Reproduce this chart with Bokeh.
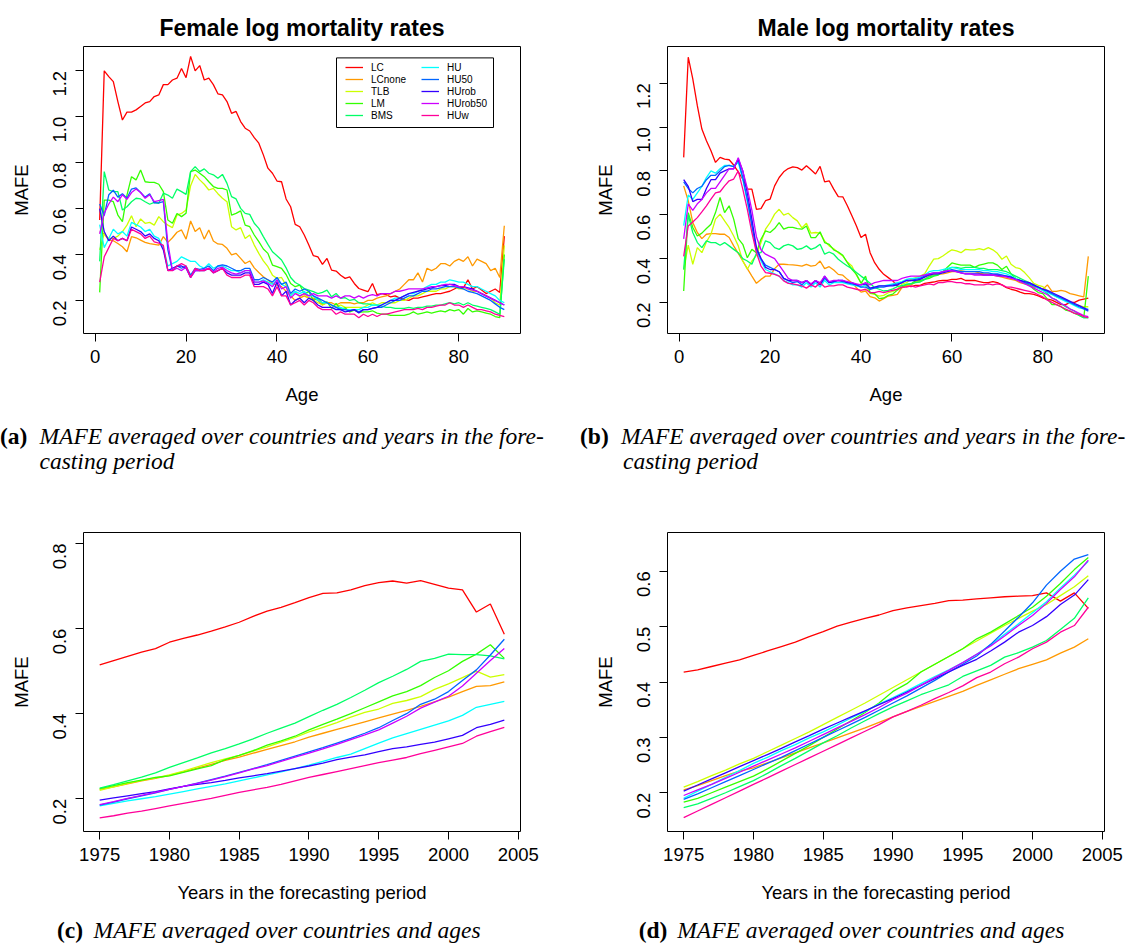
import math
from bokeh.plotting import figure
from bokeh.models import (FixedTicker, PrintfTickFormatter, Legend, LegendItem,
                          BoxAnnotation, Range1d, Div)
from bokeh.layouts import column, row
from bokeh.embed import file_html
from bokeh.resources import INLINE

SANS = "Liberation Sans"
SERIF = "Liberation Serif"

methods = ["LC", "LCnone", "TLB", "LM", "BMS", "HU", "HU50", "HUrob", "HUrob50", "HUw"]
colors = ["#FF0000", "#FF9900", "#CCFF00", "#33FF00", "#00FF66",
          "#00FFFF", "#0066FF", "#3300FF", "#CC00FF", "#FF0099"]
ages = list(range(1, 91))
years = list(range(1975, 2005))

# ---------------- (a) female, by age ----------------
f_LC = [0.55, 1.20, 1.175, 1.153, 1.066, 0.986, 1.02, 1.02, 1.03, 1.045,
        1.06, 1.066, 1.088, 1.095, 1.14, 1.14, 1.16, 1.168, 1.21, 1.17,
        1.263, 1.20, 1.223, 1.16, 1.168, 1.14, 1.10, 1.095, 1.066, 1.015,
        1.023, 0.979, 0.95, 0.938, 0.909, 0.885, 0.834, 0.776, 0.754, 0.72,
        0.717, 0.642, 0.608, 0.531, 0.521, 0.485, 0.441, 0.395, 0.39, 0.357,
        0.383, 0.332, 0.328, 0.31, 0.296, 0.303, 0.274, 0.252, 0.245, 0.238,
        0.274, 0.225, 0.23, 0.225, 0.215, 0.22, 0.21, 0.205, 0.20, 0.21,
        0.21, 0.215, 0.22, 0.225, 0.23, 0.23, 0.235, 0.24, 0.25, 0.26,
        0.255, 0.29, 0.25, 0.26, 0.245, 0.23, 0.24, 0.25, 0.235, 0.48]
f_LCnone = [0.50, 0.49, 0.463, 0.46, 0.448, 0.434, 0.412, 0.478, 0.473, 0.463,
            0.453, 0.447, 0.444, 0.441, 0.478, 0.453, 0.473, 0.497, 0.507, 0.467,
            0.546, 0.50, 0.517, 0.467, 0.507, 0.459, 0.446, 0.444, 0.427, 0.398,
            0.405, 0.383, 0.361, 0.372, 0.342, 0.322, 0.303, 0.289, 0.274, 0.267,
            0.26, 0.24, 0.22, 0.20, 0.21, 0.22, 0.21, 0.21, 0.20, 0.18,
            0.19, 0.19, 0.18, 0.19, 0.19, 0.19, 0.185, 0.19, 0.19, 0.20,
            0.20, 0.21, 0.215, 0.22, 0.23, 0.24, 0.25, 0.27, 0.29, 0.29,
            0.32, 0.28, 0.34, 0.33, 0.34, 0.36, 0.36, 0.35, 0.37, 0.38,
            0.37, 0.39, 0.35, 0.38, 0.37, 0.36, 0.33, 0.34, 0.30, 0.525]
f_TLB = [0.42, 0.49, 0.47, 0.47, 0.48, 0.50, 0.528, 0.569, 0.521, 0.555,
         0.536, 0.54, 0.528, 0.565, 0.543, 0.528, 0.517, 0.572, 0.579, 0.594,
         0.70, 0.749, 0.725, 0.706, 0.681, 0.688, 0.665, 0.645, 0.63, 0.521,
         0.507, 0.517, 0.47, 0.485, 0.441, 0.405, 0.372, 0.347, 0.31, 0.296,
         0.30, 0.267, 0.223, 0.238, 0.216, 0.23, 0.21, 0.20, 0.19, 0.18,
         0.19, 0.18, 0.17, 0.18, 0.17, 0.17, 0.17, 0.17, 0.17, 0.18,
         0.19, 0.18, 0.19, 0.19, 0.19, 0.19, 0.20, 0.20, 0.21, 0.22,
         0.22, 0.23, 0.24, 0.24, 0.24, 0.25, 0.25, 0.26, 0.26, 0.25,
         0.25, 0.25, 0.24, 0.24, 0.23, 0.22, 0.21, 0.19, 0.18, 0.44]
f_LM = [0.235, 0.637, 0.637, 0.63, 0.572, 0.543, 0.659, 0.739, 0.725, 0.768,
        0.717, 0.714, 0.714, 0.706, 0.674, 0.55, 0.536, 0.579, 0.565, 0.58,
        0.761, 0.768, 0.754, 0.739, 0.717, 0.696, 0.688, 0.688, 0.681, 0.572,
        0.579, 0.59, 0.528, 0.521, 0.485, 0.456, 0.424, 0.405, 0.354, 0.347,
        0.34, 0.313, 0.274, 0.26, 0.267, 0.23, 0.238, 0.20, 0.21, 0.187,
        0.194, 0.165, 0.187, 0.162, 0.168, 0.15, 0.158, 0.148, 0.15, 0.15,
        0.155, 0.145, 0.14, 0.14, 0.135, 0.135, 0.135, 0.135, 0.14, 0.15,
        0.14, 0.145, 0.15, 0.145, 0.15, 0.155, 0.15, 0.16, 0.155, 0.16,
        0.14, 0.165, 0.15, 0.155, 0.15, 0.145, 0.14, 0.13, 0.125, 0.40]
f_BMS = [0.37, 0.761, 0.681, 0.674, 0.674, 0.594, 0.608, 0.63, 0.645, 0.642,
         0.63, 0.619, 0.627, 0.623, 0.667, 0.659, 0.645, 0.685, 0.674, 0.662,
         0.761, 0.783, 0.761, 0.773, 0.754, 0.747, 0.732, 0.749, 0.71, 0.652,
         0.642, 0.601, 0.579, 0.575, 0.536, 0.514, 0.478, 0.444, 0.412, 0.395,
         0.376, 0.342, 0.30, 0.278, 0.267, 0.252, 0.245, 0.238, 0.23, 0.235,
         0.245, 0.216, 0.23, 0.209, 0.212, 0.20, 0.205, 0.19, 0.185, 0.185,
         0.18, 0.18, 0.175, 0.17, 0.17, 0.165, 0.165, 0.165, 0.17, 0.165,
         0.17, 0.17, 0.175, 0.175, 0.18, 0.18, 0.185, 0.19, 0.185, 0.19,
         0.18, 0.19, 0.18, 0.175, 0.17, 0.165, 0.16, 0.15, 0.14, 0.38]
f_HU = [0.53, 0.43, 0.47, 0.51, 0.49, 0.50, 0.48, 0.54, 0.53, 0.52,
        0.50, 0.51, 0.48, 0.47, 0.43, 0.35, 0.36, 0.37, 0.39, 0.38,
        0.37, 0.37, 0.35, 0.34, 0.36, 0.34, 0.35, 0.35, 0.34, 0.33,
        0.33, 0.32, 0.33, 0.33, 0.28, 0.28, 0.29, 0.28, 0.27, 0.29,
        0.27, 0.26, 0.22, 0.24, 0.23, 0.24, 0.22, 0.22, 0.20, 0.19,
        0.19, 0.18, 0.17, 0.17, 0.16, 0.16, 0.16, 0.16, 0.17, 0.17,
        0.18, 0.18, 0.18, 0.19, 0.20, 0.21, 0.21, 0.22, 0.23, 0.23,
        0.24, 0.25, 0.26, 0.27, 0.27, 0.28, 0.28, 0.29, 0.285, 0.28,
        0.28, 0.27, 0.26, 0.26, 0.25, 0.24, 0.23, 0.22, 0.20, 0.19]
f_HU50 = [0.62, 0.57, 0.66, 0.68, 0.65, 0.665, 0.645, 0.685, 0.69, 0.67,
          0.65, 0.665, 0.625, 0.625, 0.63, 0.42, 0.33, 0.35, 0.34, 0.35,
          0.31, 0.34, 0.335, 0.34, 0.35, 0.33, 0.35, 0.355, 0.35, 0.34,
          0.33, 0.33, 0.34, 0.34, 0.29, 0.29, 0.30, 0.29, 0.28, 0.30,
          0.27, 0.28, 0.23, 0.25, 0.24, 0.25, 0.24, 0.22, 0.21, 0.20,
          0.19, 0.18, 0.17, 0.16, 0.16, 0.155, 0.16, 0.15, 0.16, 0.16,
          0.165, 0.17, 0.17, 0.18, 0.19, 0.20, 0.20, 0.21, 0.22, 0.22,
          0.23, 0.24, 0.24, 0.25, 0.25, 0.255, 0.26, 0.26, 0.26, 0.255,
          0.25, 0.24, 0.235, 0.23, 0.22, 0.21, 0.20, 0.185, 0.17, 0.16]
f_HUrob = [0.60, 0.50, 0.46, 0.48, 0.46, 0.47, 0.46, 0.52, 0.51, 0.50,
           0.48, 0.49, 0.47, 0.46, 0.42, 0.33, 0.34, 0.35, 0.35, 0.34,
           0.30, 0.33, 0.33, 0.33, 0.34, 0.32, 0.33, 0.34, 0.32, 0.31,
           0.31, 0.31, 0.32, 0.32, 0.27, 0.27, 0.28, 0.27, 0.23, 0.28,
           0.22, 0.24, 0.18, 0.20, 0.21, 0.19, 0.21, 0.20, 0.18, 0.17,
           0.17, 0.17, 0.16, 0.16, 0.15, 0.155, 0.16, 0.145, 0.16, 0.16,
           0.165, 0.17, 0.18, 0.19, 0.20, 0.20, 0.21, 0.22, 0.23, 0.235,
           0.24, 0.245, 0.25, 0.255, 0.26, 0.265, 0.265, 0.27, 0.27, 0.26,
           0.26, 0.255, 0.25, 0.24, 0.23, 0.22, 0.21, 0.20, 0.19, 0.18]
f_HUrob50 = [0.49, 0.58, 0.62, 0.65, 0.63, 0.66, 0.64, 0.67, 0.685, 0.67,
             0.645, 0.66, 0.63, 0.635, 0.64, 0.45, 0.33, 0.34, 0.33, 0.345,
             0.30, 0.33, 0.33, 0.335, 0.34, 0.325, 0.34, 0.345, 0.33, 0.32,
             0.315, 0.32, 0.33, 0.33, 0.28, 0.28, 0.285, 0.275, 0.26, 0.29,
             0.25, 0.26, 0.21, 0.23, 0.22, 0.23, 0.22, 0.23, 0.22, 0.22,
             0.22, 0.21, 0.22, 0.21, 0.22, 0.22, 0.21, 0.22, 0.21, 0.22,
             0.225, 0.22, 0.23, 0.23, 0.23, 0.24, 0.24, 0.245, 0.25, 0.25,
             0.25, 0.25, 0.255, 0.26, 0.26, 0.265, 0.27, 0.27, 0.265, 0.26,
             0.26, 0.25, 0.245, 0.24, 0.23, 0.22, 0.21, 0.20, 0.19, 0.18]
f_HUw = [0.28, 0.39, 0.43, 0.47, 0.46, 0.47, 0.46, 0.51, 0.50, 0.49,
         0.47, 0.48, 0.455, 0.45, 0.44, 0.33, 0.33, 0.35, 0.36, 0.35,
         0.30, 0.34, 0.33, 0.33, 0.34, 0.32, 0.33, 0.34, 0.31, 0.30,
         0.30, 0.30, 0.31, 0.31, 0.26, 0.26, 0.26, 0.25, 0.22, 0.26,
         0.22, 0.22, 0.18, 0.19, 0.20, 0.18, 0.20, 0.19, 0.17, 0.16,
         0.16, 0.16, 0.14, 0.15, 0.14, 0.14, 0.14, 0.125, 0.14, 0.13,
         0.14, 0.13, 0.14, 0.14, 0.145, 0.15, 0.155, 0.16, 0.16, 0.16,
         0.165, 0.16, 0.17, 0.17, 0.175, 0.18, 0.18, 0.19, 0.18, 0.18,
         0.17, 0.18, 0.17, 0.16, 0.16, 0.155, 0.15, 0.14, 0.135, 0.13]

# ---------------- (b) male, by age ----------------
m_LC = [0.862, 1.319, 1.22, 1.098, 0.991, 0.938, 0.892, 0.839, 0.862, 0.854,
        0.851, 0.827, 0.796, 0.763, 0.717, 0.717, 0.625, 0.628, 0.664, 0.671,
        0.732, 0.77, 0.796, 0.811, 0.819, 0.815, 0.804, 0.824, 0.805, 0.786,
        0.821, 0.75, 0.755, 0.717, 0.683, 0.682, 0.641, 0.595, 0.549, 0.496,
        0.511, 0.427, 0.381, 0.351, 0.328, 0.313, 0.298, 0.275, 0.267, 0.275,
        0.272, 0.278, 0.278, 0.287, 0.29, 0.293, 0.298, 0.30, 0.30, 0.305,
        0.305, 0.31, 0.30, 0.30, 0.30, 0.295, 0.29, 0.29, 0.295, 0.29,
        0.28, 0.267, 0.26, 0.255, 0.247, 0.24, 0.24, 0.237, 0.23, 0.22,
        0.215, 0.21, 0.20, 0.19, 0.19, 0.20, 0.20, 0.21, 0.215, 0.22]
m_LCnone = [0.732, 0.664, 0.564, 0.519, 0.491, 0.511, 0.514, 0.514, 0.511, 0.511,
            0.496, 0.458, 0.424, 0.389, 0.354, 0.32, 0.287, 0.305, 0.32, 0.32,
            0.354, 0.374, 0.374, 0.372, 0.371, 0.369, 0.366, 0.374, 0.366, 0.369,
            0.389, 0.354, 0.363, 0.348, 0.328, 0.324, 0.305, 0.29, 0.267, 0.247,
            0.252, 0.226, 0.221, 0.206, 0.217, 0.229, 0.232, 0.237, 0.267, 0.275,
            0.28, 0.293, 0.295, 0.305, 0.32, 0.328, 0.328, 0.33, 0.335, 0.34,
            0.34, 0.345, 0.34, 0.34, 0.34, 0.335, 0.33, 0.33, 0.325, 0.32,
            0.315, 0.31, 0.305, 0.30, 0.29, 0.285, 0.28, 0.27, 0.265, 0.26,
            0.28, 0.25, 0.25, 0.255, 0.25, 0.24, 0.235, 0.23, 0.225, 0.41]
m_TLB = [0.35, 0.461, 0.374, 0.45, 0.427, 0.476, 0.511, 0.58, 0.603, 0.572,
         0.542, 0.503, 0.458, 0.389, 0.351, 0.389, 0.415, 0.473, 0.534, 0.564,
         0.603, 0.625, 0.598, 0.607, 0.587, 0.572, 0.54, 0.561, 0.516, 0.519,
         0.516, 0.481, 0.458, 0.445, 0.427, 0.412, 0.384, 0.366, 0.324, 0.29,
         0.278, 0.241, 0.237, 0.229, 0.232, 0.244, 0.25, 0.26, 0.283, 0.29,
         0.305, 0.313, 0.32, 0.33, 0.366, 0.397, 0.40, 0.412, 0.427, 0.44,
         0.435, 0.427, 0.442, 0.44, 0.44, 0.445, 0.44, 0.45, 0.44, 0.424,
         0.397, 0.412, 0.374, 0.359, 0.354, 0.336, 0.313, 0.287, 0.278, 0.272,
         0.252, 0.241, 0.226, 0.217, 0.214, 0.20, 0.19, 0.185, 0.18, 0.18]
m_LM = [0.252, 0.61, 0.542, 0.503, 0.516, 0.537, 0.557, 0.61, 0.679, 0.61,
        0.641, 0.58, 0.491, 0.465, 0.404, 0.442, 0.427, 0.488, 0.526, 0.519,
        0.537, 0.564, 0.534, 0.542, 0.542, 0.537, 0.534, 0.549, 0.496, 0.496,
        0.522, 0.473, 0.465, 0.44, 0.43, 0.415, 0.381, 0.351, 0.328, 0.287,
        0.32, 0.244, 0.24, 0.217, 0.22, 0.232, 0.238, 0.256, 0.27, 0.282,
        0.285, 0.298, 0.30, 0.305, 0.31, 0.32, 0.325, 0.34, 0.36, 0.38,
        0.375, 0.37, 0.37, 0.37, 0.36, 0.37, 0.375, 0.38, 0.38, 0.37,
        0.35, 0.365, 0.33, 0.31, 0.30, 0.29, 0.28, 0.26, 0.245, 0.24,
        0.215, 0.19, 0.19, 0.18, 0.165, 0.16, 0.15, 0.14, 0.13, 0.32]
m_BMS = [0.35, 0.60, 0.519, 0.473, 0.45, 0.481, 0.473, 0.473, 0.461, 0.473,
         0.458, 0.442, 0.427, 0.40, 0.389, 0.374, 0.424, 0.427, 0.481, 0.473,
         0.45, 0.442, 0.458, 0.465, 0.458, 0.442, 0.446, 0.458, 0.442, 0.45,
         0.465, 0.42, 0.43, 0.42, 0.397, 0.381, 0.366, 0.354, 0.336, 0.32,
         0.305, 0.287, 0.267, 0.26, 0.252, 0.255, 0.262, 0.272, 0.277, 0.282,
         0.285, 0.29, 0.293, 0.305, 0.317, 0.322, 0.328, 0.34, 0.35, 0.36,
         0.36, 0.355, 0.36, 0.36, 0.36, 0.355, 0.355, 0.35, 0.35, 0.35,
         0.345, 0.34, 0.33, 0.32, 0.31, 0.30, 0.29, 0.28, 0.265, 0.255,
         0.24, 0.22, 0.21, 0.195, 0.18, 0.17, 0.16, 0.14, 0.13, 0.13]
m_HU = [0.55, 0.69, 0.67, 0.70, 0.73, 0.77, 0.80, 0.79, 0.81, 0.825,
        0.825, 0.82, 0.84, 0.76, 0.66, 0.55, 0.43, 0.39, 0.35, 0.34,
        0.33, 0.32, 0.30, 0.29, 0.28, 0.28, 0.27, 0.29, 0.27, 0.29,
        0.27, 0.30, 0.28, 0.29, 0.29, 0.29, 0.285, 0.28, 0.275, 0.27,
        0.28, 0.265, 0.27, 0.275, 0.275, 0.28, 0.285, 0.29, 0.295, 0.305,
        0.31, 0.31, 0.315, 0.325, 0.34, 0.345, 0.345, 0.35, 0.355, 0.36,
        0.355, 0.35, 0.35, 0.35, 0.35, 0.35, 0.345, 0.345, 0.34, 0.34,
        0.335, 0.33, 0.32, 0.31, 0.30, 0.295, 0.285, 0.275, 0.265, 0.255,
        0.245, 0.235, 0.225, 0.215, 0.205, 0.195, 0.185, 0.175, 0.17, 0.17]
m_HU50 = [0.75, 0.72, 0.70, 0.72, 0.73, 0.76, 0.78, 0.78, 0.80, 0.82,
          0.825, 0.82, 0.85, 0.77, 0.67, 0.55, 0.44, 0.40, 0.37, 0.36,
          0.35, 0.34, 0.31, 0.30, 0.29, 0.295, 0.28, 0.30, 0.28, 0.30,
          0.28, 0.31, 0.29, 0.295, 0.30, 0.295, 0.29, 0.285, 0.28, 0.27,
          0.27, 0.26, 0.265, 0.27, 0.27, 0.275, 0.28, 0.285, 0.29, 0.30,
          0.30, 0.305, 0.31, 0.32, 0.33, 0.335, 0.335, 0.34, 0.345, 0.35,
          0.345, 0.34, 0.34, 0.34, 0.34, 0.34, 0.335, 0.335, 0.33, 0.33,
          0.325, 0.32, 0.315, 0.305, 0.30, 0.29, 0.285, 0.275, 0.27, 0.26,
          0.25, 0.24, 0.23, 0.22, 0.21, 0.20, 0.19, 0.18, 0.17, 0.16]
m_HUrob = [0.76, 0.73, 0.66, 0.67, 0.67, 0.72, 0.76, 0.76, 0.79, 0.80,
           0.81, 0.81, 0.855, 0.80, 0.70, 0.58, 0.45, 0.40, 0.36, 0.35,
           0.35, 0.34, 0.31, 0.30, 0.30, 0.30, 0.29, 0.30, 0.28, 0.30,
           0.28, 0.32, 0.29, 0.295, 0.30, 0.30, 0.29, 0.29, 0.28, 0.28,
           0.285, 0.265, 0.27, 0.275, 0.275, 0.275, 0.275, 0.28, 0.29, 0.30,
           0.30, 0.30, 0.305, 0.315, 0.325, 0.33, 0.33, 0.335, 0.34, 0.345,
           0.34, 0.335, 0.33, 0.33, 0.33, 0.33, 0.325, 0.325, 0.325, 0.325,
           0.32, 0.32, 0.315, 0.305, 0.30, 0.295, 0.29, 0.28, 0.27, 0.26,
           0.255, 0.245, 0.235, 0.225, 0.215, 0.205, 0.195, 0.185, 0.175, 0.165]
m_HUrob50 = [0.49, 0.65, 0.62, 0.65, 0.67, 0.70, 0.72, 0.72, 0.75, 0.78,
             0.81, 0.81, 0.86, 0.80, 0.72, 0.62, 0.50, 0.44, 0.42, 0.41,
             0.40, 0.37, 0.34, 0.31, 0.30, 0.30, 0.29, 0.30, 0.285, 0.30,
             0.29, 0.32, 0.295, 0.30, 0.30, 0.30, 0.295, 0.29, 0.285, 0.28,
             0.29, 0.28, 0.29, 0.295, 0.30, 0.30, 0.30, 0.30, 0.31, 0.315,
             0.32, 0.32, 0.32, 0.325, 0.33, 0.335, 0.335, 0.34, 0.345, 0.345,
             0.34, 0.335, 0.33, 0.33, 0.325, 0.325, 0.325, 0.325, 0.325, 0.32,
             0.32, 0.315, 0.31, 0.305, 0.295, 0.285, 0.275, 0.265, 0.255, 0.245,
             0.235, 0.22, 0.21, 0.195, 0.185, 0.17, 0.16, 0.15, 0.14, 0.135]
m_HUw = [0.41, 0.549, 0.567, 0.587, 0.613, 0.641, 0.671, 0.70, 0.705, 0.732,
         0.755, 0.763, 0.80, 0.717, 0.625, 0.519, 0.427, 0.366, 0.336, 0.333,
         0.328, 0.32, 0.298, 0.287, 0.285, 0.28, 0.275, 0.265, 0.28, 0.27,
         0.29, 0.27, 0.275, 0.275, 0.28, 0.28, 0.27, 0.265, 0.26, 0.255,
         0.26, 0.245, 0.245, 0.25, 0.245, 0.25, 0.255, 0.26, 0.27, 0.27,
         0.275, 0.27, 0.275, 0.28, 0.285, 0.28, 0.29, 0.29, 0.295, 0.295,
         0.29, 0.29, 0.285, 0.285, 0.28, 0.28, 0.28, 0.285, 0.28, 0.285,
         0.28, 0.27, 0.27, 0.265, 0.26, 0.255, 0.25, 0.245, 0.235, 0.225,
         0.21, 0.20, 0.19, 0.18, 0.17, 0.16, 0.15, 0.145, 0.135, 0.13]

# ---------------- (c) female, by year ----------------
c_LC = [0.515, 0.525, 0.535, 0.545, 0.553, 0.568, 0.577, 0.585, 0.594, 0.604,
        0.615, 0.629, 0.641, 0.650, 0.661, 0.673, 0.683, 0.684, 0.691, 0.701,
        0.708, 0.712, 0.707, 0.713, 0.704, 0.695, 0.691, 0.639, 0.658, 0.587]
c_LCnone = [0.222, 0.228, 0.235, 0.242, 0.248, 0.255, 0.263, 0.272, 0.281, 0.290,
            0.298, 0.307, 0.316, 0.325, 0.334, 0.345, 0.354, 0.363, 0.372, 0.381,
            0.390, 0.399, 0.408, 0.417, 0.428, 0.439, 0.452, 0.464, 0.466, 0.475]
c_TLB = [0.220, 0.228, 0.236, 0.243, 0.249, 0.256, 0.265, 0.275, 0.285, 0.294,
         0.302, 0.312, 0.322, 0.333, 0.344, 0.357, 0.368, 0.379, 0.392, 0.403,
         0.411, 0.424, 0.431, 0.440, 0.457, 0.470, 0.485, 0.500, 0.486, 0.492]
c_LM = [0.224, 0.231, 0.238, 0.244, 0.250, 0.254, 0.262, 0.270, 0.278, 0.292,
        0.302, 0.313, 0.326, 0.336, 0.347, 0.362, 0.375, 0.387, 0.400, 0.414,
        0.428, 0.442, 0.452, 0.466, 0.485, 0.501, 0.523, 0.540, 0.562, 0.530]
c_BMS = [0.225, 0.233, 0.242, 0.251, 0.261, 0.274, 0.285, 0.296, 0.308, 0.318,
         0.329, 0.341, 0.354, 0.366, 0.378, 0.393, 0.408, 0.422, 0.438, 0.455,
         0.473, 0.488, 0.504, 0.523, 0.530, 0.540, 0.539, 0.539, 0.536, 0.529]
c_HU = [0.183, 0.189, 0.195, 0.200, 0.205, 0.211, 0.217, 0.223, 0.229, 0.235,
        0.242, 0.249, 0.256, 0.263, 0.271, 0.279, 0.288, 0.297, 0.305, 0.318,
        0.331, 0.343, 0.353, 0.363, 0.373, 0.383, 0.396, 0.415, 0.422, 0.429]
c_HU50 = [0.185, 0.192, 0.200, 0.207, 0.214, 0.222, 0.229, 0.237, 0.245, 0.253,
          0.262, 0.271, 0.280, 0.290, 0.300, 0.310, 0.320, 0.331, 0.342, 0.354,
          0.367, 0.384, 0.400, 0.422, 0.434, 0.452, 0.478, 0.503, 0.538, 0.575]
c_HUrob = [0.197, 0.202, 0.207, 0.212, 0.217, 0.223, 0.229, 0.234, 0.238, 0.243,
           0.249, 0.254, 0.259, 0.265, 0.271, 0.277, 0.284, 0.292, 0.298, 0.303,
           0.311, 0.318, 0.322, 0.328, 0.333, 0.341, 0.349, 0.367, 0.375, 0.385]
c_HUrob50 = [0.186, 0.193, 0.201, 0.208, 0.215, 0.222, 0.229, 0.236, 0.244, 0.252,
             0.261, 0.270, 0.278, 0.288, 0.298, 0.307, 0.317, 0.328, 0.339, 0.350,
             0.362, 0.378, 0.394, 0.413, 0.427, 0.441, 0.465, 0.495, 0.525, 0.553]
c_HUw = [0.155, 0.160, 0.166, 0.171, 0.177, 0.183, 0.189, 0.195, 0.201, 0.208,
         0.215, 0.221, 0.227, 0.234, 0.242, 0.250, 0.257, 0.264, 0.271, 0.278,
         0.285, 0.291, 0.297, 0.306, 0.314, 0.322, 0.330, 0.347, 0.358, 0.368]

# ---------------- (d) male, by year ----------------
d_LC = [0.418, 0.422, 0.428, 0.434, 0.440, 0.448, 0.456, 0.464, 0.472, 0.482,
        0.491, 0.501, 0.508, 0.515, 0.521, 0.529, 0.534, 0.538, 0.542, 0.547,
        0.548, 0.550, 0.552, 0.554, 0.555, 0.556, 0.561, 0.546, 0.561, 0.533]
d_LCnone = [0.205, 0.213, 0.222, 0.231, 0.239, 0.245, 0.254, 0.263, 0.272, 0.281,
            0.290, 0.299, 0.308, 0.317, 0.327, 0.337, 0.347, 0.356, 0.365, 0.374,
            0.383, 0.394, 0.404, 0.414, 0.424, 0.432, 0.440, 0.452, 0.463, 0.478]
d_TLB = [0.210, 0.220, 0.231, 0.241, 0.252, 0.262, 0.274, 0.286, 0.298, 0.310,
         0.323, 0.336, 0.349, 0.362, 0.376, 0.390, 0.404, 0.418, 0.432, 0.446,
         0.460, 0.474, 0.488, 0.502, 0.515, 0.528, 0.540, 0.556, 0.572, 0.592]
d_LM = [0.183, 0.190, 0.200, 0.210, 0.220, 0.230, 0.243, 0.257, 0.271, 0.285,
        0.300, 0.315, 0.330, 0.345, 0.362, 0.383, 0.397, 0.418, 0.432, 0.446,
        0.460, 0.478, 0.490, 0.505, 0.520, 0.535, 0.555, 0.578, 0.603, 0.625]
d_BMS = [0.173, 0.180, 0.190, 0.200, 0.211, 0.222, 0.235, 0.249, 0.262, 0.276,
         0.290, 0.303, 0.317, 0.330, 0.343, 0.355, 0.366, 0.377, 0.386, 0.395,
         0.410, 0.420, 0.430, 0.445, 0.453, 0.463, 0.475, 0.495, 0.515, 0.552]
d_HU = [0.190, 0.203, 0.215, 0.228, 0.240, 0.253, 0.264, 0.276, 0.287, 0.299,
        0.310, 0.322, 0.335, 0.347, 0.360, 0.372, 0.384, 0.397, 0.410, 0.422,
        0.435, 0.450, 0.467, 0.486, 0.505, 0.525, 0.545, 0.570, 0.593, 0.618]
d_HU50 = [0.188, 0.198, 0.209, 0.220, 0.231, 0.242, 0.253, 0.264, 0.276, 0.288,
          0.300, 0.312, 0.324, 0.336, 0.349, 0.362, 0.375, 0.389, 0.403, 0.418,
          0.432, 0.447, 0.468, 0.492, 0.517, 0.543, 0.575, 0.600, 0.622, 0.630]
d_HUrob = [0.203, 0.214, 0.225, 0.236, 0.247, 0.258, 0.269, 0.280, 0.292, 0.303,
           0.315, 0.326, 0.337, 0.348, 0.359, 0.370, 0.382, 0.394, 0.406, 0.418,
           0.430, 0.441, 0.456, 0.472, 0.490, 0.502, 0.518, 0.540, 0.557, 0.585]
d_HUrob50 = [0.195, 0.205, 0.215, 0.226, 0.237, 0.248, 0.259, 0.270, 0.281, 0.293,
             0.305, 0.317, 0.329, 0.341, 0.354, 0.368, 0.380, 0.394, 0.408, 0.421,
             0.435, 0.450, 0.465, 0.483, 0.502, 0.520, 0.542, 0.567, 0.590, 0.620]
d_HUw = [0.155, 0.167, 0.179, 0.191, 0.203, 0.215, 0.227, 0.239, 0.251, 0.263,
         0.275, 0.287, 0.299, 0.311, 0.323, 0.337, 0.347, 0.358, 0.370, 0.381,
         0.393, 0.408, 0.418, 0.433, 0.445, 0.460, 0.472, 0.490, 0.502, 0.535]

female_age = [f_LC, f_LCnone, f_TLB, f_LM, f_BMS, f_HU, f_HU50, f_HUrob, f_HUrob50, f_HUw]
male_age = [m_LC, m_LCnone, m_TLB, m_LM, m_BMS, m_HU, m_HU50, m_HUrob, m_HUrob50, m_HUw]
female_year = [c_LC, c_LCnone, c_TLB, c_LM, c_BMS, c_HU, c_HU50, c_HUrob, c_HUrob50, c_HUw]
male_year = [d_LC, d_LCnone, d_TLB, d_LM, d_BMS, d_HU, d_HU50, d_HUrob, d_HUrob50, d_HUw]

age_ticks = [0, 20, 40, 60, 80]
year_ticks = [1975, 1980, 1985, 1990, 1995, 2000, 2005]


def make_panel(x, series, xr, yr, xticks, yticks, xlabel, title,
               bl, br, bt, bb, fh):
    kw = dict(frame_width=437, frame_height=fh,
              x_range=Range1d(*xr), y_range=Range1d(*yr),
              output_backend="svg", toolbar_location=None,
              min_border_left=bl, min_border_right=br,
              min_border_top=bt, min_border_bottom=bb)
    if title:
        kw["title"] = title
    p = figure(**kw)
    p.background_fill_color = "white"
    p.border_fill_color = "white"
    p.outline_line_color = "black"
    p.outline_line_alpha = 1.0
    p.outline_line_width = 1
    p.xgrid.visible = False
    p.ygrid.visible = False
    rends = []
    for ys, c in zip(series, colors):
        rends.append(p.line(x, ys, line_color=c, line_width=1.3))
    for ax in (p.xaxis[0], p.yaxis[0]):
        ax.minor_tick_line_color = None
        ax.major_tick_in = 0
        ax.major_tick_out = 8
        ax.major_tick_line_color = "black"
        ax.axis_line_color = None
        ax.major_label_text_font = SANS
        ax.major_label_text_font_size = "18.5px"
        ax.major_label_text_color = "black"
        ax.axis_label_text_font = SANS
        ax.axis_label_text_font_size = "18.5px"
        ax.axis_label_text_font_style = "normal"
        ax.axis_label_text_color = "black"
    p.xaxis[0].ticker = FixedTicker(ticks=xticks)
    p.yaxis[0].ticker = FixedTicker(ticks=yticks)
    p.yaxis[0].formatter = PrintfTickFormatter(format="%.1f")
    p.yaxis[0].major_label_orientation = math.pi / 2
    p.xaxis[0].major_label_standoff = 8
    p.yaxis[0].major_label_standoff = 16
    p.xaxis[0].axis_label = xlabel
    p.yaxis[0].axis_label = "MAFE"
    p.xaxis[0].axis_label_standoff = 18
    p.yaxis[0].axis_label_standoff = 12
    if title:
        p.title.text_font = SANS
        p.title.text_font_size = "23px"
        p.title.text_font_style = "bold"
        p.title.text_color = "black"
        p.title.align = "center"
        p.title.standoff = 11
    return p, rends


def caption(letter, lines, x_letter, x_texts, top, width, height):
    parts = ['<div style="position:relative;width:%dpx;height:%dpx;overflow:hidden;'
             'font-family:\'Liberation Serif\';font-size:23.5px;line-height:25px;'
             'color:#000;white-space:nowrap;">' % (width, height)]
    parts.append('<span style="position:absolute;left:%spx;top:%spx;font-weight:bold;'
                 'font-style:normal;">(%s)</span>' % (x_letter, top, letter))
    for i, (t, xt) in enumerate(zip(lines, x_texts)):
        parts.append('<span style="position:absolute;left:%spx;top:%spx;font-style:italic;">'
                     '%s</span>' % (xt, top + 25 * i, t))
    parts.append('</div>')
    return Div(text="".join(parts), width=width, height=height, margin=0,
               styles={"overflow": "hidden"})


pa, ra = make_panel(ages, female_age, (-2.56, 93.56), (0.056, 1.306), age_ticks,
                    [0.2, 0.4, 0.6, 0.8, 1.0, 1.2], "Age", "Female log mortality rates",
                    83, 43, 46, 87, 287)
pb, rb = make_panel(ages, male_age, (-2.56, 93.56), (0.058, 1.368), age_ticks,
                    [0.2, 0.4, 0.6, 0.8, 1.0, 1.2], "Age", "Male log mortality rates",
                    104, 22, 46, 87, 287)
pc, rc = make_panel(years, female_year, (1973.84, 2005.16), (0.123, 0.826), year_ticks,
                    [0.2, 0.4, 0.6, 0.8], "Years in the forecasting period", None,
                    83, 43, 42, 79, 299)
pd_, rd = make_panel(years, male_year, (1973.84, 2005.16), (0.130, 0.670), year_ticks,
                     [0.2, 0.3, 0.4, 0.5, 0.6], "Years in the forecasting period", None,
                     104, 22, 42, 79, 299)

# legend in panel (a)
pa.add_layout(BoxAnnotation(left=253, right=410, bottom=206, top=275.6,
                            left_units="screen", right_units="screen",
                            bottom_units="screen", top_units="screen",
                            fill_color="white", fill_alpha=1.0,
                            line_color="black", line_width=1, line_alpha=1.0))
for idx, xoff in ((range(0, 5), 262), (range(5, 10), 338)):
    leg = Legend(items=[LegendItem(label=methods[i], renderers=[ra[i]]) for i in idx],
                 location=(xoff, 212), orientation="vertical",
                 border_line_color=None, background_fill_alpha=0.0,
                 padding=0, margin=0, spacing=0,
                 glyph_width=18, glyph_height=12, label_height=12,
                 label_standoff=8, label_text_font=SANS,
                 label_text_font_size="10px", label_text_color="black")
    pa.add_layout(leg)

cap_ab = ["MAFE averaged over countries and years in the fore-", "casting period"]
cap_cd = ["MAFE averaged over countries and ages"]
div_a = caption("a", cap_ab, 0, [39.5, 39.5], 3.5, 563, 70)
div_b = caption("b", cap_ab, 17, [58, 60], 3.5, 563, 70)
div_c = caption("c", cap_cd, 57, [93.6], 7.5, 563, 34)
div_d = caption("d", cap_cd, 75.7, [114.3], 7.5, 563, 34)

layout = column(row(pa, pb), row(div_a, div_b), row(pc, pd_), row(div_c, div_d))
open("out.html", "w").write(file_html(layout, INLINE))
